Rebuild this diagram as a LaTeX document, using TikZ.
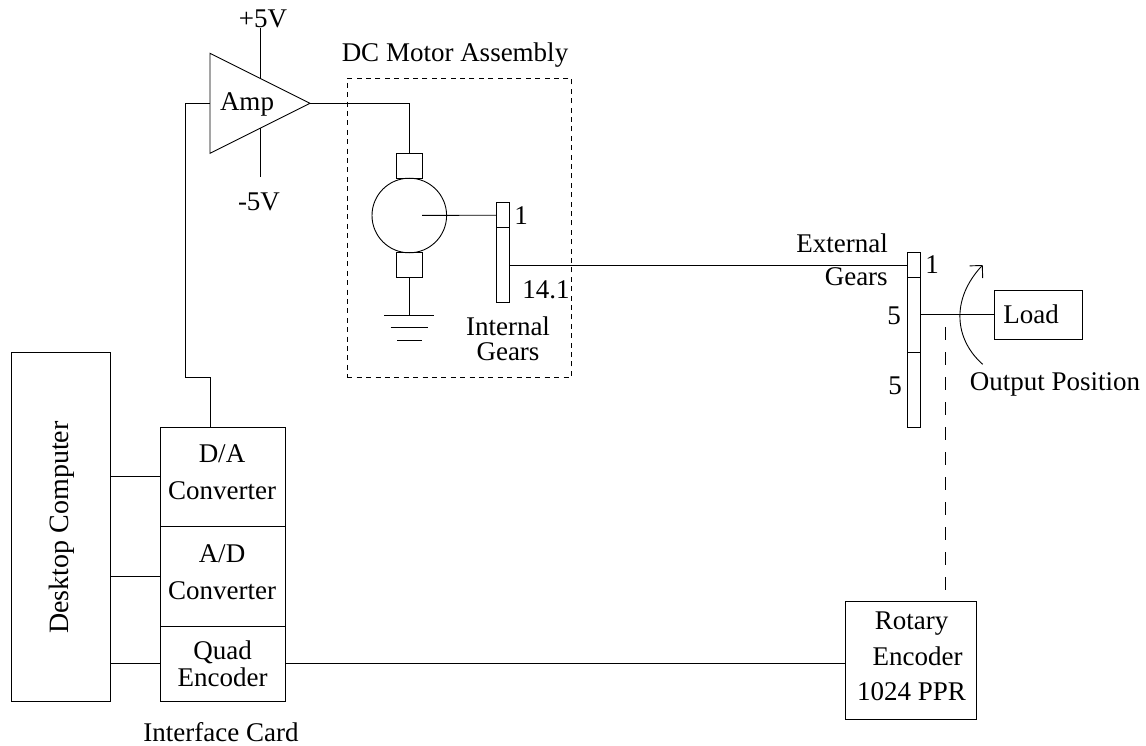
\documentclass[tikz,border=0pt]{standalone}
\usepackage{fontspec}
\setmainfont{Liberation Serif}
\usetikzlibrary{arrows.meta}
\usetikzlibrary{shapes.geometric}

\tikzset{
	every node/.style={font=\fontsize{27}{27}\selectfont, inner sep=0pt, outer sep=0pt},
	block/.style={draw, align=center},
	gear/.style={draw, minimum width=12.6, anchor=north},
}

\begin{document}
\begin{tikzpicture}[x=1pt, y=-1pt, line width=0.9pt, >={Straight Barb[length=9pt,width=18pt]}]

	\useasboundingbox (0,0) rectangle (1146,746);

	% amplifier
	\node [draw, isosceles triangle, isosceles triangle stretches, minimum width=100, minimum height=100, anchor=apex] (amp) at (310,103.3) {};
	\node (amp-label) at (247,104) {Amp};
	\node (plus) at (263,19) {+5V};
	\node (minus) at (259,202) {-5V};
	\coordinate (plus-end) at (260,28);
	\coordinate (minus-end) at (260,177);
	\coordinate (plus-tip) at (260,78.3);
	\coordinate (minus-tip) at (260,128.3);
	\draw (plus-end) -- (plus-tip);
	\draw (minus-end) -- (minus-tip);

	% motor assembly
	\node [draw, dash pattern=on 5pt off 4.4pt, minimum width=224.4, minimum height=298.7, anchor=north west] (assembly) at (347.3,78.3) {};
	\node [above] (assembly-label) at (455,67) {DC Motor Assembly};
	\node [draw, circle, minimum size=74.6] (motor) at (409.3,215.5) {};
	\node [gear, minimum width=25.3, minimum height=25] (brush-1) at (409.3,153.3) {};
	\node [gear, minimum width=25.3, minimum height=25] (brush-2) at (409.3,252.7) {};
	\coordinate (shaft) at (422,215.4);
	\coordinate (ground-1) at (409.3,315);

	% ground
	\foreach \y/\w [count=\i] in {315/25,327.3/18.6,340/12.3}
		\draw (409.3-\w,\y) -- (409.3+\w,\y);

	% internal gears
	\node [gear, minimum height=25] (internal-1) at (503,202.7) {};
	\node [gear, minimum height=75] (internal-2) at (503,227.7) {};
	\node (internal-ratio-1) at (521,215.5) {1};
	\node (internal-ratio-2) at (546,290) {14.1};
	\node [align=center] (internal-label) at (508,338.5) {Internal\\[-2pt]Gears};

	% external gears
	\node [gear, minimum height=25] (external-1) at (914,252.7) {};
	\node [gear, minimum height=74.6] (external-2) at (914,277.7) {};
	\node [gear, minimum height=75] (external-3) at (914,352.3) {};
	\node [align=right] (external-label) at (842,260) {External\\[6pt]Gears};
	\node (external-ratio-1) at (932,265) {1};
	\node (external-ratio-2) at (894,316) {5};
	\node (external-ratio-3) at (895,386) {5};

	% load
	\node [block, minimum width=87.6, minimum height=49.3] (load) at (1038.5,314.7) {Load\hspace*{15pt}};
	\node (position) at (1055,384) {Output Position};
	\coordinate (position-start) at (982.7,364.3);
	\coordinate (position-end) at (982.7,265);

	% computer and card
	\node [block, minimum width=99.3, minimum height=348.7] (computer) at (60.7,526.7) {};
	\node [rotate=90, font=\fontsize{28}{28}\selectfont] (computer-label) at (62,527.5) {Desktop Computer};
	\node [block, minimum width=124.7, minimum height=98.7, anchor=north] (da) at (222.7,427.3) {};
	\node [block, minimum width=124.7, minimum height=100, anchor=north] (ad) at (222.7,526) {};
	\node [block, minimum width=124.7, minimum height=75, anchor=north] (quad) at (222.7,626) {Quad\\Encoder};
	\node [align=center] (da-label) at (222,472) {D/A\\[10pt]Converter};
	\node [align=center] (ad-label) at (222,572) {A/D\\[10pt]Converter};
	\node (card-label) at (221,732) {Interface Card};

	% encoder
	\node [block, minimum width=131, minimum height=118, anchor=north] (encoder) at (910.8,601.3) {};
	\node [align=center] (encoder-label) at (911.5,656) {Rotary\\[9pt]\hspace*{12pt}Encoder\\[8pt]1024 PPR};
	\coordinate (encoder-shaft) at (945,327);
	\coordinate (da-in) at (210.7,427.3);

	% lines to the card
	\draw (computer.east |- da.west) -- (da.west);
	\draw (computer.east |- ad.west) -- (ad.west);
	\draw (computer.east |- quad.west) -- (quad.west);
	\draw (quad.east) -- (encoder.west |- quad.east);

	% lines to the amplifier and motor
	\draw (da-in) |- (185.7,377) |- (amp.lower side);
	\draw (amp.apex) -| (brush-1.north);
	\draw (brush-2.south) -- (ground-1);
	\draw (shaft) -- (internal-1.west);
	\draw (internal-2.east |- external-1.west) -- (external-1.west);
	\draw (external-2.east |- load.west) -- (load.west);

	% output
	\draw [dash pattern=on 13pt off 12pt] (encoder-shaft) -- (encoder-shaft |- encoder.north);
	\draw [->] (position-start) .. controls (955,340) and (950,300) .. (position-end);

\end{tikzpicture}
\end{document}
